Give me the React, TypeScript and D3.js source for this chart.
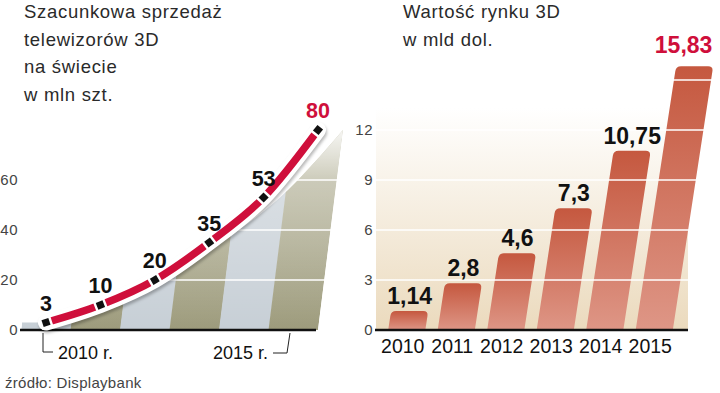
import React from 'react';
import * as d3 from 'd3';

const years = [2010, 2011, 2012, 2013, 2014, 2015];
const tvSales = [3, 10, 20, 35, 53, 80];
const tvLabels = ['3', '10', '20', '35', '53', '80'];
const marketValue = [1.14, 2.8, 4.6, 7.3, 10.75, 15.83];
const marketLabels = ['1,14', '2,8', '4,6', '7,3', '10,75', '15,83'];
const leftTicks = [0, 20, 40, 60];
const leftGrid = [20, 40, 60];
const rightTicks = [0, 3, 6, 9, 12];
const rightGrid = [3, 6, 9, 12, 15];
const leftTitle = ['Szacunkowa sprzedaż', 'telewizorów 3D', 'na świecie', 'w mln szt.'];
const rightTitle = ['Wartość rynku 3D', 'w mld dol.'];
const leftYearLabels = ['2010 r.', '2015 r.'];
const source = 'źródło: Displaybank';

const SANS = "'Liberation Sans', Arial, sans-serif";
const RED = '#cf0f3b';
const OLIVE = '#a6a487';
const BLUE = '#c7cfd6';

export default function App() {
  // ---------- left chart ----------
  const base = 330;
  const axisL0 = 21;
  const xL = d3.scaleLinear().domain([2010, 2015]).range([46, 318]);
  const yL = d3.scaleLinear().domain([0, 80]).range([base, 130]);
  const kL = 0.125;
  const angL = (Math.atan(kL) * 180) / Math.PI;
  const pts = years.map((y, i) => ({ year: y, v: tvSales[i] }));
  const area = d3
    .area<{ year: number; v: number }>()
    .x((d) => xL(d.year))
    .y0(base)
    .y1((d) => yL(d.v))
    .curve(d3.curveMonotoneX)(pts) as string;
  const line = d3
    .line<{ year: number; v: number }>()
    .x((d) => xL(d.year))
    .y((d) => yL(d.v))
    .curve(d3.curveMonotoneX)(pts) as string;
  const stripe = d3.scaleBand<number>().domain(years).range([axisL0, 318]);

  const angleAt = (i: number) => {
    const a = pts[Math.max(0, i - 1)];
    const b = pts[Math.min(pts.length - 1, i + 1)];
    return (Math.atan2(yL(b.v) - yL(a.v), xL(b.year) - xL(a.year)) * 180) / Math.PI;
  };

  // ---------- right chart ----------
  const xR = d3.scaleBand<number>().domain(years).range([382, 679]).paddingInner(0.25).paddingOuter(0.125);
  const yR = d3.scaleLinear().domain([0, 15]).range([base, 80]);
  const kR = 0.153;
  const angR = (Math.atan(kR) * 180) / Math.PI;
  const bw = xR.bandwidth();
  const barPath = (x: number, yt: number) => {
    const r = 5;
    return `M${x},${base}L${x},${yt + r}Q${x},${yt} ${x + r},${yt}L${x + bw - r},${yt}Q${x + bw},${yt} ${x + bw},${yt + r}L${x + bw},${base}Z`;
  };

  return (
    <svg width={720} height={393} style={{ position: 'absolute', left: 0, top: 0, background: '#fff' }} fontFamily={SANS}>
      <defs>
        <linearGradient id="fade" gradientUnits="userSpaceOnUse" x1={0} y1={118} x2={0} y2={base}>
          <stop offset="0" stopColor="#fff" stopOpacity={1} />
          <stop offset="0.3" stopColor="#fff" stopOpacity={0.35} />
          <stop offset="1" stopColor="#fff" stopOpacity={0} />
        </linearGradient>
        <linearGradient id="olive" gradientUnits="userSpaceOnUse" x1={0} y1={130} x2={0} y2={base}>
          <stop offset="0" stopColor="#b6b49b" />
          <stop offset="1" stopColor="#9d9b7c" />
        </linearGradient>
        <linearGradient id="beige" gradientUnits="userSpaceOnUse" x1={0} y1={108} x2={0} y2={base}>
          <stop offset="0" stopColor="#ffffff" />
          <stop offset="1" stopColor="#ebdabd" />
        </linearGradient>
        <linearGradient id="bar" x1={0} y1={0} x2={0} y2={1}>
          <stop offset="0" stopColor="#c5583f" />
          <stop offset="1" stopColor="#de9686" />
        </linearGradient>
        <clipPath id="areaClip">
          <path d={area} />
          <rect x={axisL0} y={yL(tvSales[0])} width={xL(years[0]) - axisL0} height={base - yL(tvSales[0])} />
        </clipPath>
        <filter id="blur" x="-10%" y="-10%" width="120%" height="120%">
          <feGaussianBlur stdDeviation={1.6} />
        </filter>
      </defs>

      {/* titles */}
      {leftTitle.map((t, i) => (
        <text key={t} x={24} y={18 + i * 27.7} fontSize={18.5} letterSpacing={0.7} fill="#2a2a2a">
          {t}
        </text>
      ))}
      {rightTitle.map((t, i) => (
        <text key={t} x={403} y={18 + i * 27.5} fontSize={18.5} letterSpacing={0.7} fill="#2a2a2a">
          {t}
        </text>
      ))}

      {/* ---------- left chart ---------- */}
      <g transform={`translate(0,${base}) skewX(${-angL}) translate(0,${-base})`}>
        <g clipPath="url(#areaClip)">
          {years.map((y, i) => (
            <rect
              key={y}
              x={stripe(y)}
              y={100}
              width={stripe.step() + 0.5}
              height={base - 100}
              fill={i % 2 === 0 ? BLUE : 'url(#olive)'}
            />
          ))}
          <rect x={0} y={100} width={360} height={base - 100} fill="url(#fade)" />
        </g>
      </g>
      {leftGrid.map((v) => (
        <line key={v} x1={axisL0} x2={350} y1={yL(v)} y2={yL(v)} stroke="#fff" strokeWidth={1.3} />
      ))}
      <line x1={axisL0 - 1} x2={316} y1={base} y2={base} stroke="#111" strokeWidth={2.5} />
      {leftTicks.map((v) => (
        <text key={v} x={18} y={yL(v) + 5} fontSize={15} textAnchor="end" fill="#444" letterSpacing={0.5}>
          {v}
        </text>
      ))}

      {/* curve */}
      <path d={line} fill="none" stroke="rgba(0,0,0,0.28)" strokeWidth={16} strokeLinecap="round" transform="translate(1,2.5)" filter="url(#blur)" />
      <path d={line} fill="none" stroke="#fff" strokeWidth={16} strokeLinecap="round" />
      <path d={line} fill="none" stroke={RED} strokeWidth={7.5} />
      {pts.map((p, i) => (
        <g key={p.year} transform={`translate(${xL(p.year)},${yL(p.v)}) rotate(${angleAt(i)})`}>
          <rect x={-6} y={-6} width={12} height={12} fill="#fff" />
          <rect x={-3.6} y={-3.6} width={7.2} height={7.2} fill="#111" />
        </g>
      ))}
      {pts.map((p, i) => (
        <text
          key={p.year}
          x={xL(p.year)}
          y={yL(p.v) - 12}
          fontSize={21.5}
          fontWeight="bold"
          textAnchor="middle"
          fill={i === pts.length - 1 ? RED : '#111'}
        >
          {tvLabels[i]}
        </text>
      ))}

      {/* left x labels */}
      <path d={`M${xL(2010) - 3},${base + 3}V352H53`} fill="none" stroke="#222" strokeWidth={1} />
      <text x={58} y={359} fontSize={18} fill="#111">
        {leftYearLabels[0]}
      </text>
      <path d={`M273,353H287L${xL(2015) - 28},${base + 3}`} fill="none" stroke="#222" strokeWidth={1} />
      <text x={268} y={359} fontSize={18} textAnchor="end" fill="#111">
        {leftYearLabels[1]}
      </text>
      <text x={5} y={388} fontSize={15} fill="#444" letterSpacing={0.3}>
        {source}
      </text>

      {/* ---------- right chart ---------- */}
      <rect x={376} y={108} width={312} height={base - 108} fill="url(#beige)" />
      <g transform={`translate(0,${base}) skewX(${-angR}) translate(0,${-base})`}>
        {years.map((y, i) => (
          <path key={y} d={barPath(xR(y) as number, yR(marketValue[i]))} fill="url(#bar)" />
        ))}
      </g>
      {rightGrid.map((v) => (
        <line key={v} x1={376} x2={716} y1={yR(v)} y2={yR(v)} stroke="#fff" strokeWidth={1.5} />
      ))}
      <line x1={375} x2={688} y1={base} y2={base} stroke="#111" strokeWidth={2.5} />
      {rightTicks.map((v) => (
        <text key={v} x={373} y={yR(v) + 5} fontSize={15} textAnchor="end" fill="#444" letterSpacing={0.5}>
          {v}
        </text>
      ))}
      {years.map((y, i) => {
        const last = i === years.length - 1;
        const h = base - yR(marketValue[i]);
        const cx = (xR(y) as number) + bw / 2 + kR * h;
        return (
          <text
            key={y}
            x={last ? cx - 11 : cx}
            y={yR(marketValue[i]) - (last ? 13 : 7)}
            fontSize={23}
            fontWeight="bold"
            textAnchor="middle"
            fill={last ? RED : '#111'}
          >
            {marketLabels[i]}
          </text>
        );
      })}
      {years.map((y) => (
        <text key={y} x={(xR(y) as number) + bw / 2 - 4} y={353} fontSize={19.5} textAnchor="middle" fill="#111">
          {y}
        </text>
      ))}
    </svg>
  );
}
